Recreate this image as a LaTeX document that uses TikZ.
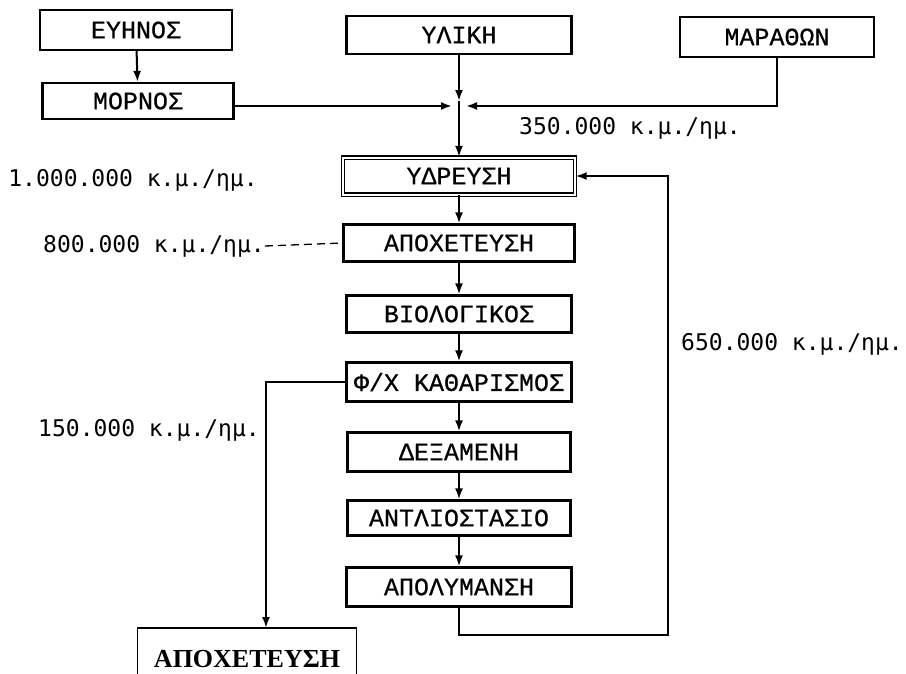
\documentclass[tikz,border=0pt]{standalone}
\usepackage{fontspec}
\usepackage{tikz}
\usetikzlibrary{arrows.meta, positioning}
\newfontfamily\gboxfont[FakeBold=0.5]{Liberation Mono}
\newfontfamily\amountfont{DejaVu Sans Mono}
\newfontfamily\outfont{Liberation Serif}

\begin{document}
\begin{tikzpicture}[x=1pt, y=-1pt,
  box/.style={draw, line width=2.2pt, minimum height=38pt, inner sep=0pt, font=\gboxfont\fontsize{25}{27}\selectfont},
  amount/.style={inner sep=0pt, font=\amountfont\fontsize{23}{26}\selectfont},
  arr/.style={-{Latex[length=11pt,width=8pt]}, line width=2pt}
]
\useasboundingbox (0,0) rectangle (906,673);
% sources
\node[box, minimum width=192pt, minimum height=40pt] (evinos)   at (136,30)  {ΕΥΗΝΟΣ};
\node[box, minimum width=191pt, minimum height=36pt] (mornos)   at (138,101) {ΜΟΡΝΟΣ};
\node[box, minimum width=225pt] (ylikh)    at (459,35)  {ΥΛΙΚΗ};
\node[box, minimum width=194pt, minimum height=40pt] (marathon) at (777,37)  {ΜΑΡΑΘΩΝ};
\coordinate (jtop)   at (459,101);
\coordinate (jleft)  at (452,106);
\coordinate (jright) at (466,106);
% main line
\node[box, double, line width=1.3pt, double distance=2pt, minimum width=232pt, minimum height=37pt] (ydreysi) at (459,176) {ΥΔΡΕΥΣΗ};
\node[box, minimum width=231pt, minimum height=37pt] (apox)   at (459,243) {ΑΠΟΧΕΤΕΥΣΗ};
\node[box, minimum width=225pt, minimum height=37pt] (bio)    at (459,314) {ΒΙΟΛΟΓΙΚΟΣ};
\node[box, minimum width=225pt, minimum height=39pt] (fx)     at (459,382) {Φ/Χ ΚΑΘΑΡΙΣΜΟΣ};
\node[box, minimum width=223pt, minimum height=39pt] (dex)    at (459,452) {ΔΕΞΑΜΕΝΗ};
\node[box, minimum width=223pt, minimum height=35pt] (antlio) at (459,518) {ΑΝΤΛΙΟΣΤΑΣΙΟ};
\node[box, minimum width=225pt, minimum height=39pt] (apol)   at (459,587) {ΑΠΟΛΥΜΑΝΣΗ};
\node[draw, line width=1.6pt, minimum width=219pt, minimum height=62pt, inner sep=0pt,
      font=\outfont\bfseries\fontsize{26}{28}\selectfont] (apoxout) at (247,659) {ΑΠΟΧΕΤΕΥΣΗ};
\coordinate (drop) at (266,628);
\coordinate (loop) at (668,635);
% quantities
\node[amount] (q350)  at (630,128) {350.000 κ.μ./ημ.};
\node[amount] (q1000) at (133,180) {1.000.000 κ.μ./ημ.};
\node[amount] (q800)  at (154,246) {800.000 κ.μ./ημ.};
\node[amount] (q650)  at (792,344) {650.000 κ.μ./ημ.};
\node[amount] (q150)  at (149,430) {150.000 κ.μ./ημ.};
% connectors
\draw[arr] (evinos) -- (mornos);
\draw[arr] (mornos.east |- jleft) -- (jleft);
\draw[arr] (marathon.south) |- (jright);
\draw[arr] (ylikh) -- (jtop);
\draw[arr] (jtop) -- (ydreysi.north);
\draw[arr] (ydreysi) -- (apox);
\draw[arr] (apox) -- (bio);
\draw[arr] (bio) -- (fx);
\draw[arr] (fx) -- (dex);
\draw[arr] (dex) -- (antlio);
\draw[arr] (antlio) -- (apol);
\draw[arr] (apol.south) |- (loop) |- (ydreysi.east);
\draw[arr] (fx.west) -| (drop);
\draw[line width=1.3pt, dash pattern=on 8pt off 5pt] (q800.east) -- (apox.west);
\end{tikzpicture}
\end{document}
